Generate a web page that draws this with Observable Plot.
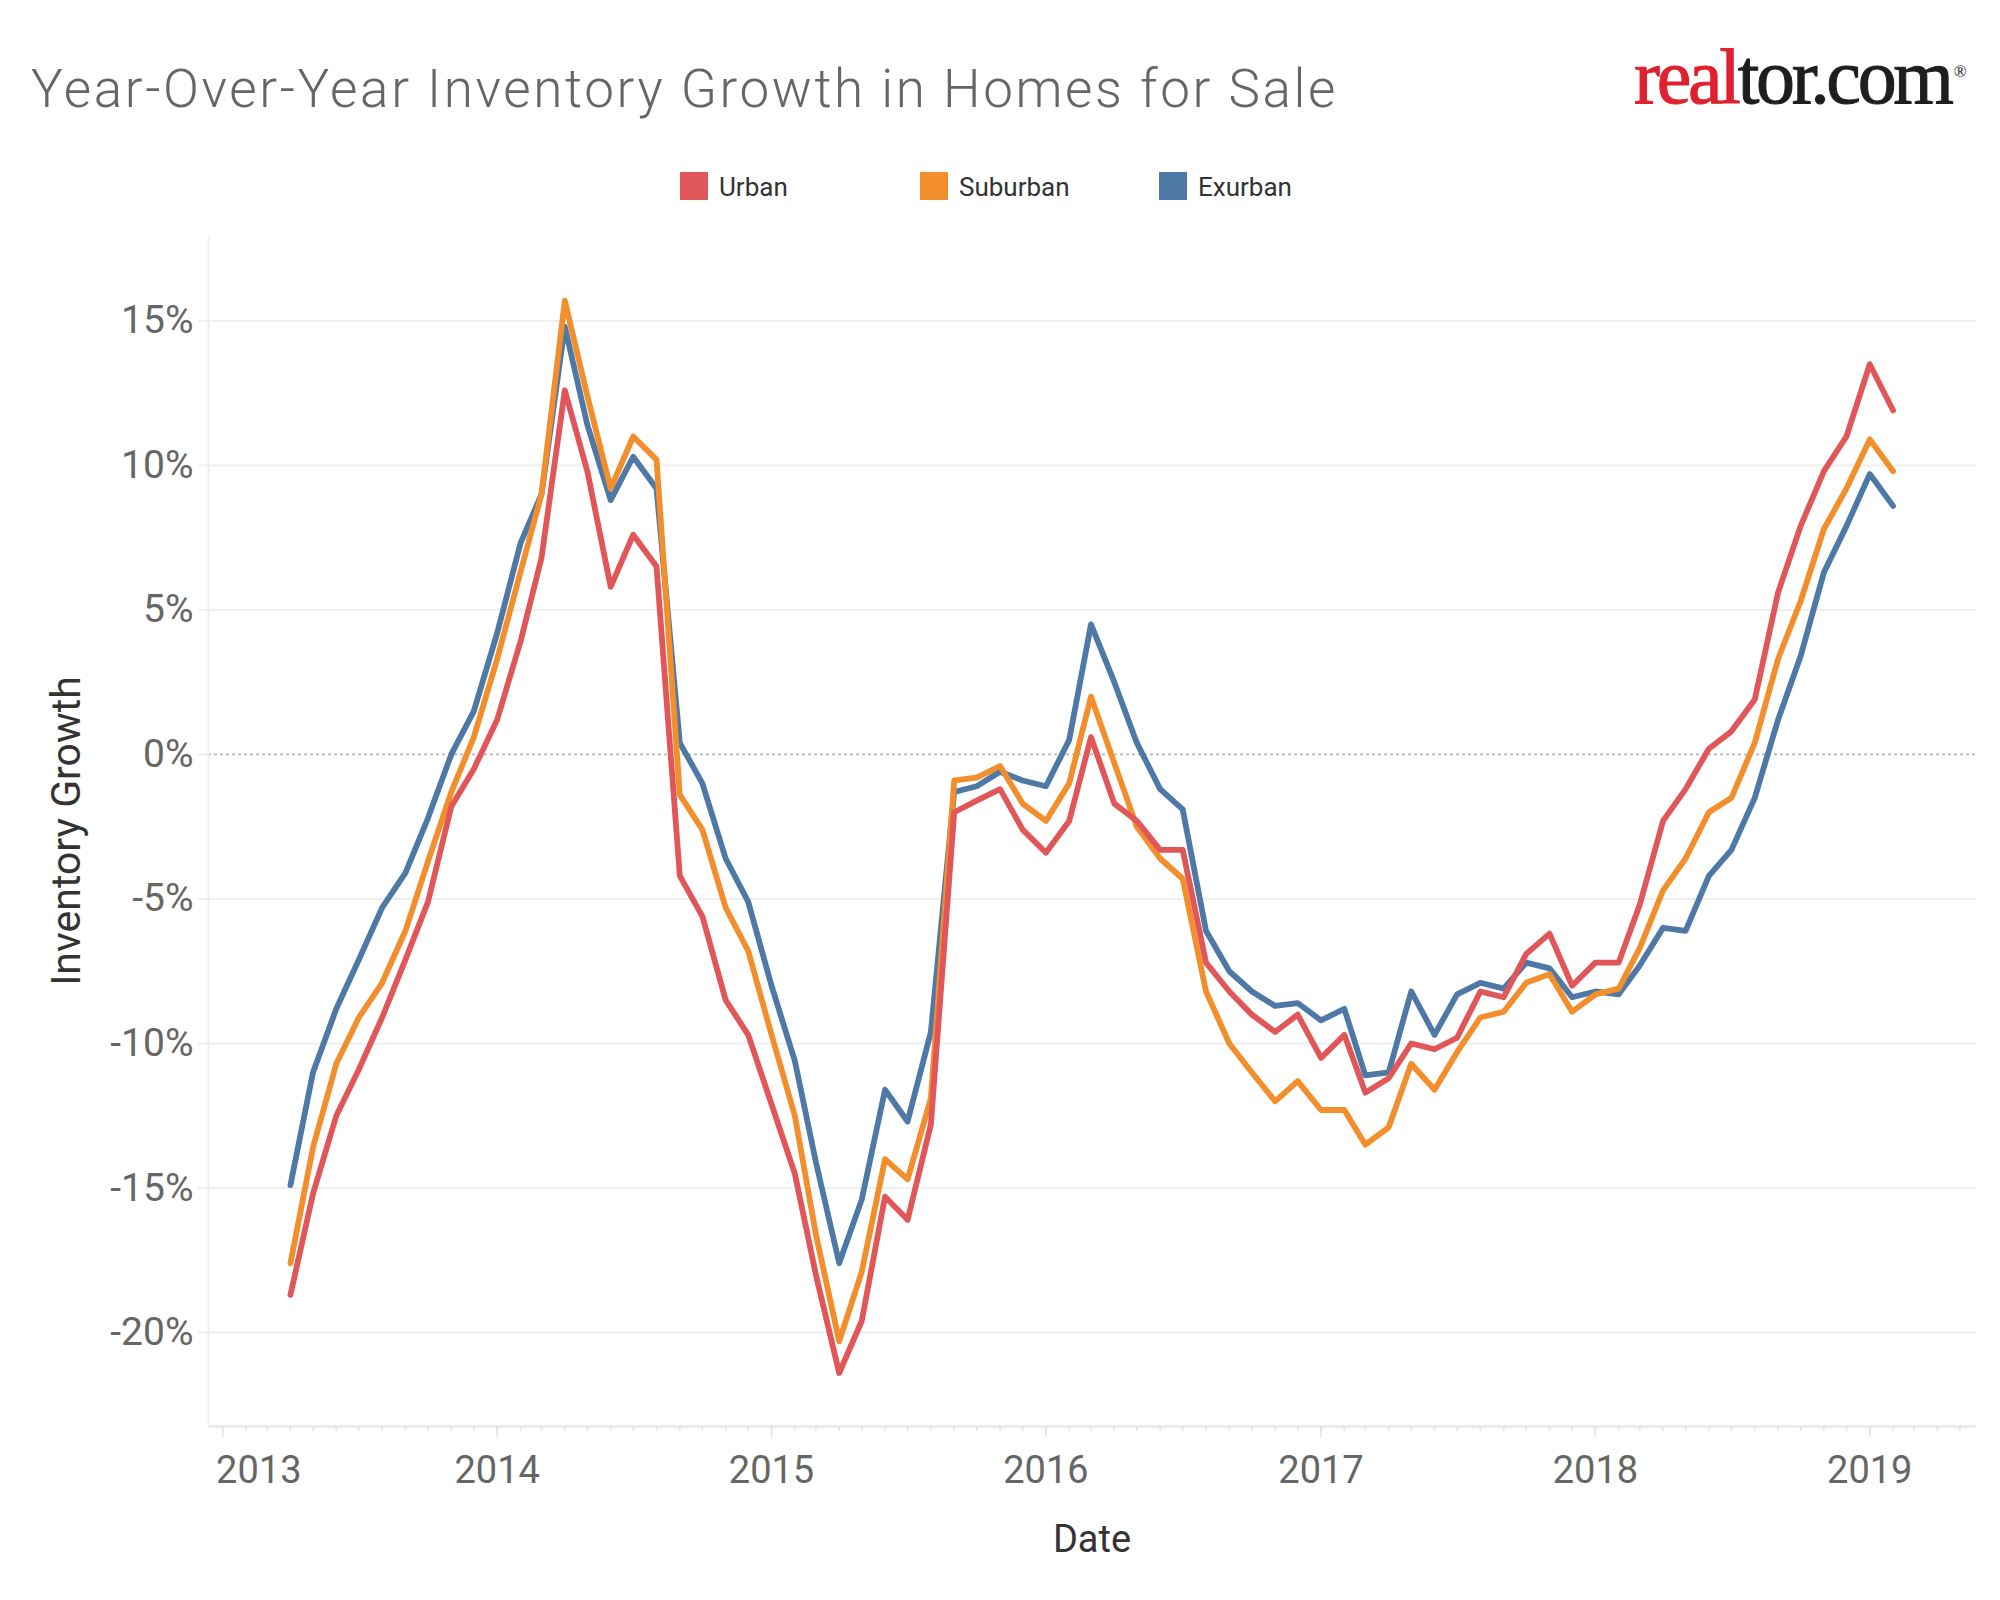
<!DOCTYPE html>
<html>
<head>
<meta charset="utf-8">
<script src="https://cdn.jsdelivr.net/npm/d3@7"></script>
<script src="https://cdn.jsdelivr.net/npm/@observablehq/plot@0.6"></script>
<style>
  html, body { margin: 0; padding: 0; background: #fff; }
  body { width: 2000px; height: 1600px; position: relative; overflow: hidden; font-family: "Roboto", "Open Sans", sans-serif; }
  #title { position: absolute; left: 31px; top: 63px; font-size: 53px; line-height: 1; color: #666; white-space: nowrap; letter-spacing: 2.6px; font-weight: 300; }
  #logo { position: absolute; left: 1634px; top: 38px; font-family: "Liberation Serif", serif; font-size: 78px; line-height: 1; letter-spacing: -3.3px; color: #1e1e1e; white-space: nowrap; -webkit-text-stroke: 1px currentColor; }
  #logo .real { color: #e0202e; }
  #logo sup { font-size: 17px; letter-spacing: 0; vertical-align: 0; position: relative; top: -26px; margin-left: 3px; -webkit-text-stroke: 0; }
  .leg-sw { position: absolute; top: 172px; width: 28px; height: 28px; }
  .leg-tx { position: absolute; top: 174px; font-size: 26px; line-height: 1; color: #333; white-space: nowrap; }
  #chart { position: absolute; left: 0; top: 200px; }
  #xtitle { position: absolute; left: 892px; width: 400px; text-align: center; top: 1520px; font-size: 38px; line-height: 1; color: #333; }
  #ytitle { position: absolute; left: -134px; top: 811px; width: 400px; height: 40px; text-align: center; font-size: 41px; line-height: 1; color: #333; transform: rotate(-90deg); transform-origin: 200px 20px; white-space: nowrap; }
</style>
</head>
<body>
<div id="title">Year-Over-Year Inventory Growth in Homes for Sale</div>
<div id="logo"><span class="real">real</span>tor.com<sup>®</sup></div>
<div id="legend"></div>
<div id="chart"></div>
<div id="xtitle">Date</div>
<div id="ytitle">Inventory Growth</div>
<script>
// ---- data ----
const months = [
  "2013-04","2013-05","2013-06","2013-07","2013-08","2013-09","2013-10","2013-11","2013-12",
  "2014-01","2014-02","2014-03","2014-04","2014-05","2014-06","2014-07","2014-08","2014-09","2014-10","2014-11","2014-12",
  "2015-01","2015-02","2015-03","2015-04","2015-05","2015-06","2015-07","2015-08","2015-09","2015-10","2015-11","2015-12",
  "2016-01","2016-02","2016-03","2016-04","2016-05","2016-06","2016-07","2016-08","2016-09","2016-10","2016-11","2016-12",
  "2017-01","2017-02","2017-03","2017-04","2017-05","2017-06","2017-07","2017-08","2017-09","2017-10","2017-11","2017-12",
  "2018-01","2018-02","2018-03","2018-04","2018-05","2018-06","2018-07","2018-08","2018-09","2018-10","2018-11","2018-12",
  "2019-01","2019-02"
];
const urban = [-18.7,-15.2,-12.5,-10.9,-9.1,-7.1,-5.1,-1.8,-0.5,1.2,3.9,6.8,12.6,9.8,5.8,7.6,6.5,-4.2,-5.6,-8.5,-9.7,-12.1,-14.5,-18.0,-21.4,-19.6,-15.3,-16.1,-12.8,-2.0,-1.6,-1.2,-2.6,-3.4,-2.3,0.6,-1.7,-2.3,-3.3,-3.3,-7.2,-8.2,-9.0,-9.6,-9.0,-10.5,-9.7,-11.7,-11.2,-10.0,-10.2,-9.8,-8.2,-8.4,-6.9,-6.2,-8.0,-7.2,-7.2,-5.2,-2.3,-1.2,0.2,0.8,1.9,5.6,7.9,9.8,11.0,13.5,11.9];
const suburban = [-17.6,-13.6,-10.7,-9.1,-7.9,-6.1,-3.7,-1.3,0.6,3.3,6.3,9.0,15.7,12.4,9.2,11.0,10.2,-1.4,-2.6,-5.3,-6.8,-9.7,-12.5,-16.6,-20.3,-17.9,-14.0,-14.7,-11.9,-0.9,-0.8,-0.4,-1.7,-2.3,-1.0,2.0,-0.3,-2.5,-3.6,-4.3,-8.2,-10.0,-11.0,-12.0,-11.3,-12.3,-12.3,-13.5,-12.9,-10.7,-11.6,-10.3,-9.1,-8.9,-7.9,-7.6,-8.9,-8.3,-8.1,-6.7,-4.7,-3.6,-2.0,-1.5,0.4,3.3,5.3,7.8,9.2,10.9,9.8];
const exurban = [-14.9,-11.0,-8.8,-7.1,-5.3,-4.1,-2.2,0.0,1.5,4.2,7.3,9.0,14.8,11.4,8.8,10.3,9.2,0.4,-1.0,-3.6,-5.1,-8.0,-10.6,-14.1,-17.6,-15.4,-11.6,-12.7,-9.6,-1.3,-1.1,-0.6,-0.9,-1.1,0.5,4.5,2.5,0.4,-1.2,-1.9,-6.1,-7.5,-8.2,-8.7,-8.6,-9.2,-8.8,-11.1,-11.0,-8.2,-9.7,-8.3,-7.9,-8.1,-7.2,-7.4,-8.4,-8.2,-8.3,-7.3,-6.0,-6.1,-4.2,-3.3,-1.5,1.2,3.4,6.3,7.9,9.7,8.6];
const seriesNames = ["Urban", "Suburban", "Exurban"];
const seriesColors = ["#e15759", "#f28e2b", "#4e79a7"];
const yTicks = [-20, -15, -10, -5, 0, 5, 10, 15];
const yearTicks = ["2013", "2014", "2015", "2016", "2017", "2018", "2019"];

// ---- build ----
const parseMonth = d3.utcParse("%Y-%m");
const parseYear = d3.utcParse("%Y");
const seriesValues = {Urban: urban, Suburban: suburban, Exurban: exurban};
const rowsFor = name => months.map((m, i) => ({date: parseMonth(m), value: seriesValues[name][i], series: name}));
const yearDates = yearTicks.map(parseYear);
const xDomain = [new Date(Date.UTC(2012, 11, 13)), new Date(Date.UTC(2019, 4, 23))];
const yDomain = [-23.25, 17.85];

// legend
const legend = document.getElementById("legend");
const legendX = [680, 920, 1159];
seriesNames.forEach((name, i) => {
  const sw = document.createElement("div");
  sw.className = "leg-sw";
  sw.style.left = legendX[i] + "px";
  sw.style.background = seriesColors[i];
  legend.appendChild(sw);
  const tx = document.createElement("div");
  tx.className = "leg-tx";
  tx.style.left = (legendX[i] + 39) + "px";
  tx.textContent = name;
  legend.appendChild(tx);
});

const lineOpts = {x: "date", y: "value", stroke: "series", strokeWidth: 5.8, strokeLinejoin: "round", strokeLinecap: "round"};

const chart = Plot.plot({
  width: 2000,
  height: 1400,
  marginTop: 38,
  marginBottom: 174,
  marginLeft: 208,
  marginRight: 24,
  style: {fontFamily: "Roboto, 'Open Sans', sans-serif", background: "#fff", overflow: "visible"},
  x: {type: "utc", domain: xDomain},
  y: {domain: yDomain},
  color: {domain: seriesNames, range: seriesColors},
  marks: [
    Plot.gridY(yTicks.filter(t => t !== 0), {stroke: "#efefef", strokeOpacity: 1, strokeWidth: 2}),
    Plot.axisY(yTicks, {tickSize: 10, tickPadding: 5, stroke: "#efefef", strokeWidth: 2, tickFormat: d => `${d}%`, fontSize: 39, fill: "#666", label: null}),
    Plot.ruleY([0], {stroke: "#b8b8b8", strokeWidth: 1.8, strokeDasharray: "3,3"}),
    Plot.ruleX([xDomain[0]], {stroke: "#efefef", strokeWidth: 2}),
    Plot.ruleY([yDomain[0]], {stroke: "#ececec", strokeWidth: 3}),
    Plot.axisX({ticks: d3.utcMonth.every(1), tickSize: 5, tickFormat: () => "", stroke: "#e2e2e2", strokeWidth: 1.5, label: null}),
    Plot.axisX(yearDates, {tickSize: 11, tickFormat: () => "", stroke: "#e2e2e2", strokeWidth: 1.5, label: null}),
    Plot.axisX(yearDates.slice(1), {tickSize: 0, tickPadding: 30, tickFormat: d3.utcFormat("%Y"), fontSize: 38, fill: "#666", label: null}),
    Plot.axisX(yearDates.slice(0, 1), {tickSize: 0, tickPadding: 30, dx: 36, tickFormat: d3.utcFormat("%Y"), fontSize: 38, fill: "#666", label: null}),
    Plot.line(rowsFor("Exurban"), lineOpts),
    Plot.line(rowsFor("Suburban"), lineOpts),
    Plot.line(rowsFor("Urban"), lineOpts)
  ]
});
document.getElementById("chart").appendChild(chart);
</script>
</body>
</html>
